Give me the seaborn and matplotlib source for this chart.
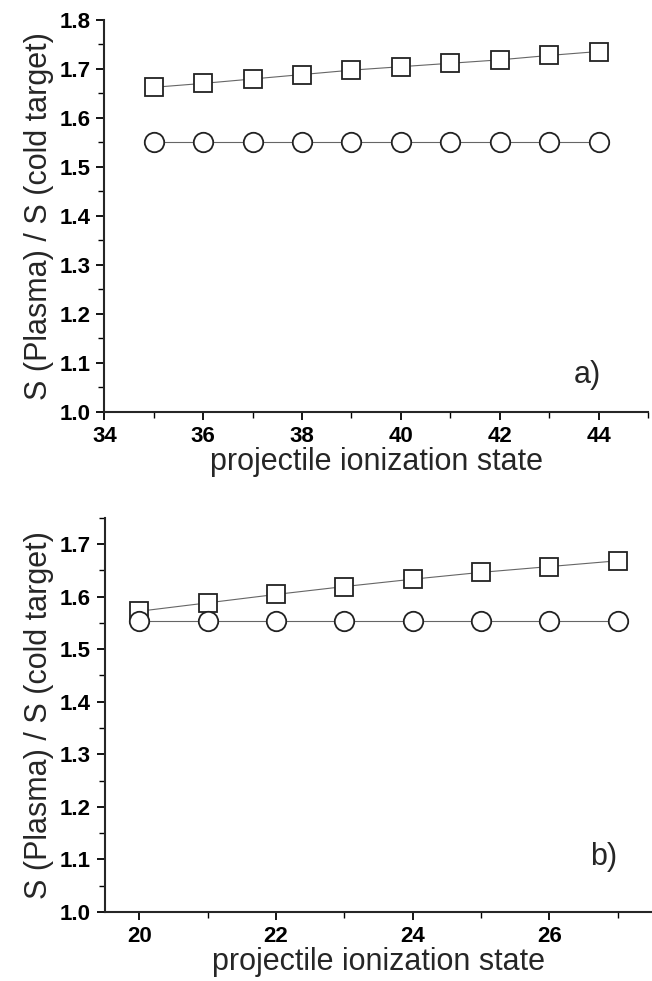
import matplotlib
matplotlib.use("Agg")
import matplotlib.pyplot as plt
from matplotlib.ticker import MultipleLocator
import seaborn as sns

# panel a) data
charge_a = [35, 36, 37, 38, 39, 40, 41, 42, 43, 44]
ratio_sq_a = [1.662, 1.670, 1.679, 1.688, 1.697, 1.704, 1.711, 1.718, 1.727, 1.735]
ratio_ci_a = [1.55, 1.55, 1.55, 1.55, 1.55, 1.55, 1.55, 1.55, 1.55, 1.55]

# panel b) data
charge_b = [20, 21, 22, 23, 24, 25, 26, 27]
ratio_sq_b = [1.572, 1.588, 1.604, 1.619, 1.633, 1.646, 1.657, 1.668]
ratio_ci_b = [1.553, 1.553, 1.553, 1.553, 1.553, 1.553, 1.553, 1.553]

sns.set_style("ticks")
plt.rcParams["font.family"] = ["Liberation Sans", "DejaVu Sans"]

fig = plt.figure(figsize=(6.52, 9.81), dpi=100)
ax_a = fig.add_axes([0.160, 0.580, 0.834, 0.400])
ax_b = fig.add_axes([0.161, 0.0703, 0.839, 0.402])


def draw_panel(ax, x, ysq, yci, xlim, ylim, xmajor, label, label_pos):
    sns.lineplot(x=x, y=ysq, ax=ax, color="#666666", linewidth=0.8,
                 marker="s", markersize=12.5, markerfacecolor="white",
                 markeredgecolor="#222222", markeredgewidth=1.3)
    sns.lineplot(x=x, y=yci, ax=ax, color="#666666", linewidth=0.8,
                 marker="o", markersize=14, markerfacecolor="white",
                 markeredgecolor="#222222", markeredgewidth=1.3)
    ax.set_xlim(*xlim)
    ax.set_ylim(*ylim)
    ax.xaxis.set_major_locator(MultipleLocator(xmajor))
    ax.xaxis.set_minor_locator(MultipleLocator(1))
    ax.yaxis.set_major_locator(MultipleLocator(0.1))
    ax.yaxis.set_minor_locator(MultipleLocator(0.05))
    ax.yaxis.set_major_formatter(plt.FormatStrFormatter("%.1f"))
    ax.tick_params(which="major", direction="out", length=6, width=1.3,
                   labelsize=16, colors="black", pad=4)
    ax.tick_params(which="minor", direction="out", length=4, width=1.0,
                   colors="black")
    for t in ax.get_xticklabels() + ax.get_yticklabels():
        t.set_fontweight("bold")
    sns.despine(ax=ax)
    ax.spines["left"].set_linewidth(1.5)
    ax.spines["bottom"].set_linewidth(1.5)
    ax.set_xlabel("projectile ionization state", fontsize=22, labelpad=0)
    ax.set_ylabel("S (Plasma) / S (cold target)", fontsize=22, labelpad=4)
    ax.text(label_pos[0], label_pos[1], label, fontsize=22)


draw_panel(ax_a, charge_a, ratio_sq_a, ratio_ci_a, (34, 45), (1.0, 1.8), 2,
           "a)", (43.5, 1.06))
draw_panel(ax_b, charge_b, ratio_sq_b, ratio_ci_b, (19.5, 27.5), (1.0, 1.75), 2,
           "b)", (26.6, 1.09))

fig.savefig("out.png", dpi=100)
